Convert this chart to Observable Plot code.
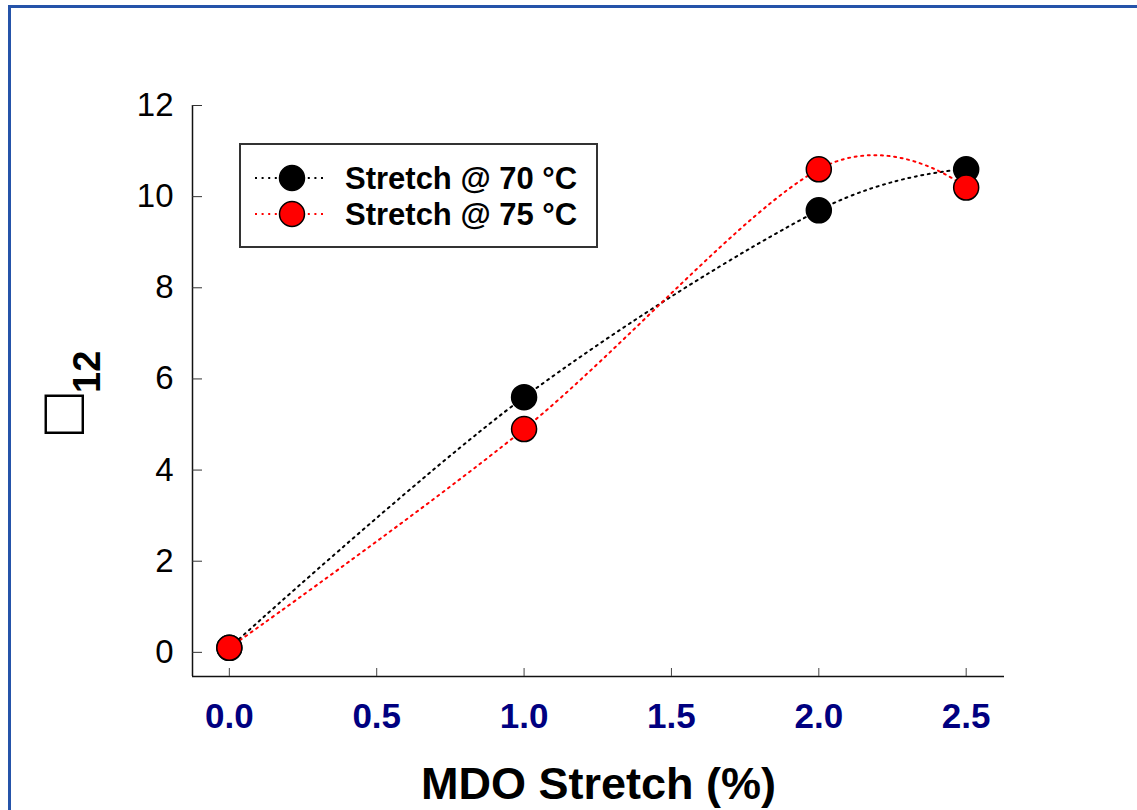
<!DOCTYPE html>
<html>
<head>
<meta charset="utf-8">
<script src="https://cdn.jsdelivr.net/npm/d3@7"></script>
<script src="https://cdn.jsdelivr.net/npm/@observablehq/plot@0.6"></script>
<style>
  html, body { margin: 0; padding: 0; background: #fff; }
  #wrap { position: relative; width: 1137px; height: 810px; overflow: hidden; font-family: "Liberation Sans", Arial, sans-serif; }
  #frame { position: absolute; left: 8px; top: 5px; width: 1300px; height: 1000px; border-top: 3px solid #2553a9; border-left: 3px solid #2553a9; box-sizing: border-box; }
  #chart { position: absolute; left: 0; top: 0; }
  #legend { position: absolute; left: 239px; top: 143px; }
</style>
</head>
<body>
<div id="wrap">
  <div id="frame"></div>
  <div id="chart"></div>
  <div id="legend"></div>
</div>
<script>
// MDO stretch (%) and the measured values for each stretch temperature
const xValues = [0, 1, 2, 2.5];
const stretch70 = [0.1, 5.6, 9.7, 10.6];
const stretch75 = [0.1, 4.9, 10.6, 10.2];
const seriesNames = ["Stretch @ 70 °C", "Stretch @ 75 °C"];
const seriesColors = ["#000000", "#ff0000"];
const xTicks = [0, 0.5, 1, 1.5, 2, 2.5];
const yTicks = [0, 2, 4, 6, 8, 10, 12];
const xTitle = "MDO Stretch (%)";
const yGlyph = "\u25A1";
const ySub = "12";

const xDomain = [-0.125, 2.63];
const yDomain = [-0.53, 12];
const font = "'Liberation Sans', Arial, sans-serif";

const rows = [];
[stretch70, stretch75].forEach((vals, s) => {
  vals.forEach((v, i) => rows.push({series: seriesNames[s], x: xValues[i], y: v}));
});

const dotted = {strokeWidth: 2, strokeDasharray: "2,4.6"};
// uniform Catmull–Rom spline through the points
const smooth = d3.curveCatmullRom.alpha(0);

const plot = Plot.plot({
  width: 1137,
  height: 810,
  marginLeft: 192,
  marginRight: 133,
  marginTop: 105,
  marginBottom: 134,
  style: {fontFamily: font, background: "transparent", overflow: "visible"},
  x: {domain: xDomain},
  y: {domain: yDomain},
  color: {domain: seriesNames, range: seriesColors},
  marks: [
    // axis lines: left and bottom only
    Plot.ruleX([xDomain[0]], {y1: yDomain[0], y2: yDomain[1], stroke: "#111", strokeWidth: 1.5}),
    Plot.ruleY([yDomain[0]], {x1: xDomain[0], x2: xDomain[1], stroke: "#111", strokeWidth: 1.5}),
    Plot.axisY({ticks: yTicks, tickSize: -10, tickPadding: 29, fontSize: 33, fill: "#000", stroke: "#333", label: null}),
    Plot.axisX({ticks: xTicks, tickFormat: d3.format(".1f"), tickSize: -8, tickPadding: 35,
      fontSize: 35, fontWeight: "bold", fill: "#000080", stroke: "#444", label: null}),
    Plot.text([xTitle], {frameAnchor: "bottom", text: d => d, dy: 108, fontSize: 45, fontWeight: "bold", fill: "#000", lineAnchor: "middle"}),
    // smooth dotted curves through each series
    Plot.line(rows.filter(d => d.series === seriesNames[0]), {x: "x", y: "y", stroke: seriesColors[0], curve: smooth, ...dotted}),
    Plot.line(rows.filter(d => d.series === seriesNames[1]), {x: "x", y: "y", stroke: seriesColors[1], curve: smooth, ...dotted}),
    Plot.dot(rows, {x: "x", y: "y", fill: "series", r: 12.5, stroke: "#000", strokeWidth: 1.5})
  ]
});

// y-axis title: symbol with subscript, rotated
const svg = d3.select(plot);
const yt = svg.append("text")
  .attr("transform", "rotate(-90)")
  .attr("text-anchor", "start")
  .attr("font-family", font)
  .attr("fill", "#000");
yt.append("tspan").attr("x", -434).attr("y", 84).attr("font-size", 66).text(yGlyph);
yt.append("tspan").attr("x", -393).attr("y", 100).attr("font-size", 38).attr("font-weight", "bold").text(ySub);

document.getElementById("chart").appendChild(plot);

// legend box
const lg = d3.select("#legend").append("svg").attr("width", 360).attr("height", 106)
  .style("font-family", font);
lg.append("rect").attr("x", 1).attr("y", 1).attr("width", 357).attr("height", 103)
  .attr("fill", "#fff").attr("stroke", "#333").attr("stroke-width", 2);
seriesNames.forEach((name, i) => {
  const cy = 35 + i * 36;
  lg.append("line").attr("x1", 16).attr("x2", 88).attr("y1", cy).attr("y2", cy)
    .attr("stroke", seriesColors[i]).attr("stroke-width", 2).attr("stroke-dasharray", "2,4.6");
  lg.append("circle").attr("cx", 53).attr("cy", cy).attr("r", 12.5)
    .attr("fill", seriesColors[i]).attr("stroke", "#000").attr("stroke-width", 1.5);
  lg.append("text").attr("x", 106).attr("y", cy).attr("dy", "0.36em")
    .attr("font-size", 31).attr("font-weight", "bold").attr("fill", "#000").text(name);
});
</script>
</body>
</html>
